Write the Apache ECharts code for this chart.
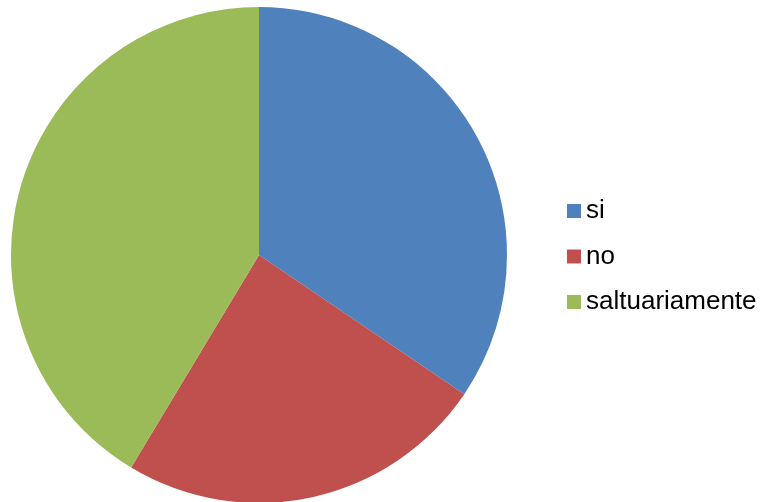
<!DOCTYPE html>
<html><head><meta charset="utf-8">
<script src="https://cdn.jsdelivr.net/npm/echarts@6/dist/echarts.min.js"></script>
<style>html,body{margin:0;padding:0;background:#fff}#c{width:763px;height:502px}</style>
</head><body><div id="c"></div>
<script>
const categories = ['si', 'no', 'saltuariamente'];
const values = [10, 7, 12];
const colors = ['#4F81BD', '#C0504D', '#9BBB59'];

const chart = echarts.init(document.getElementById('c'), null, {renderer: 'canvas'});
chart.setOption({
  animation: false,
  backgroundColor: '#ffffff',
  color: colors,
  legend: {
    orient: 'vertical',
    left: 567,
    top: 198,
    padding: 0,
    itemWidth: 14,
    itemHeight: 14,
    itemGap: 19.5,
    icon: 'rect',
    textStyle: {fontFamily: 'Liberation Sans, Arial', fontSize: 26, lineHeight: 26, color: '#000', padding: [0,0,0,0]},
    data: categories
  },
  series: [{
    type: 'pie',
    center: [259, 255],
    radius: 248,
    startAngle: 90,
    clockwise: true,
    label: {show: false},
    labelLine: {show: false},
    itemStyle: {borderWidth: 0},
    emphasis: {disabled: true},
    data: categories.map((n, i) => ({name: n, value: values[i]}))
  }]
});
</script></body></html>
